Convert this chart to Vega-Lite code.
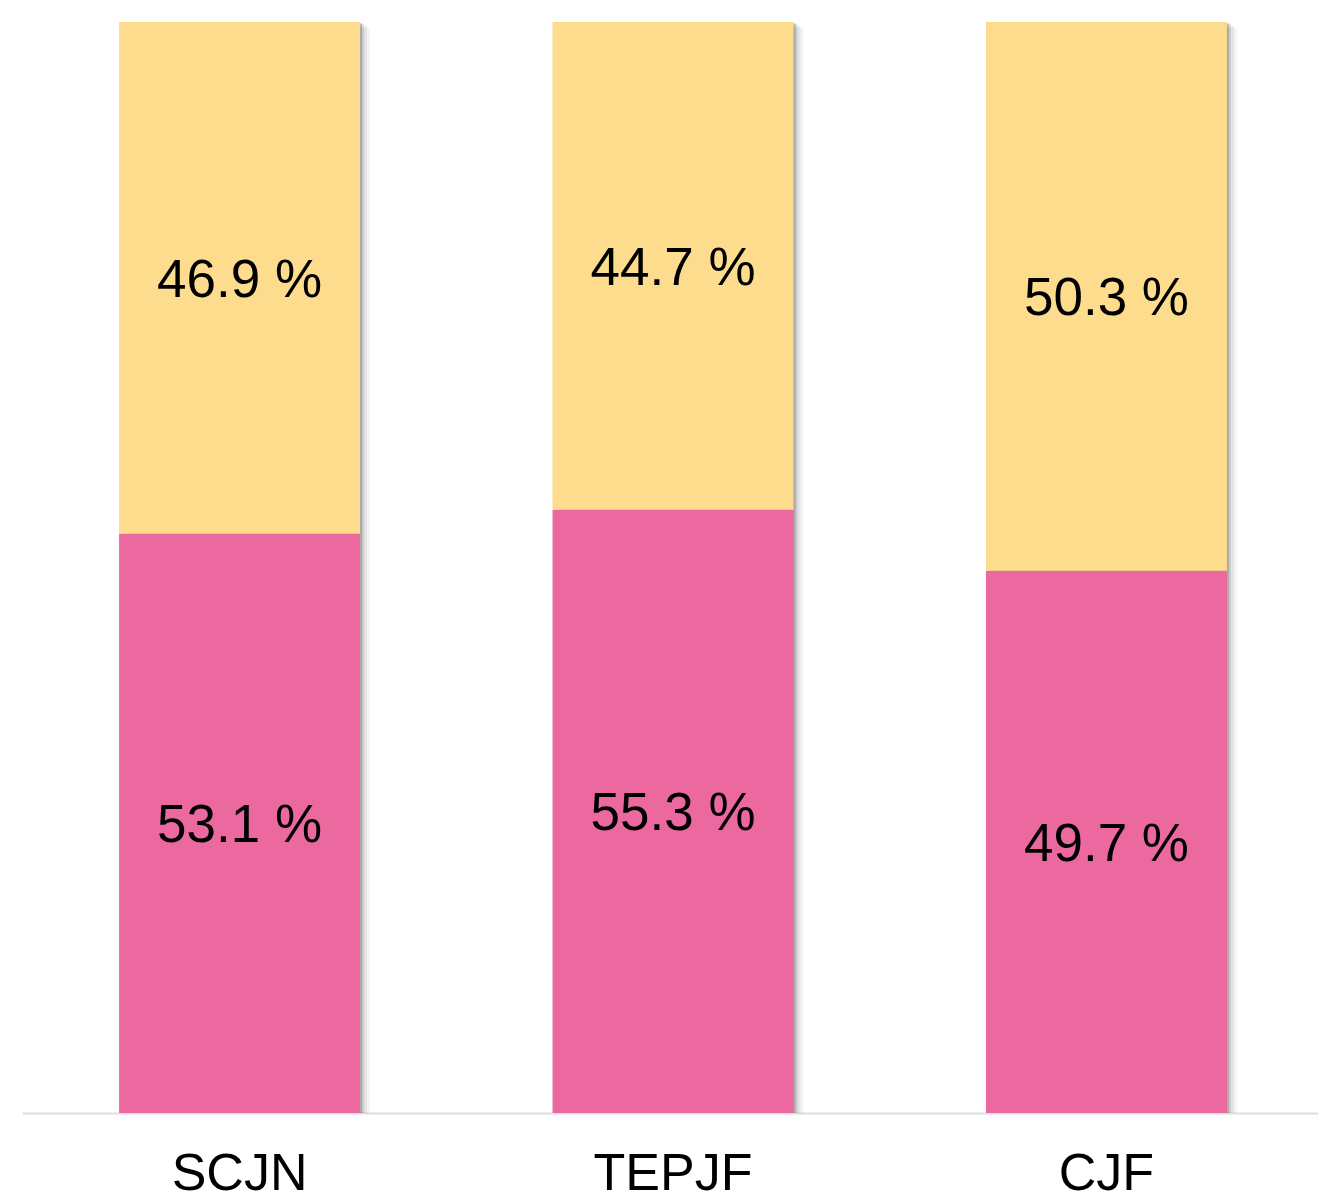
{
  "$schema": "https://vega.github.io/schema/vega-lite/v6.json",
  "width": 1296,
  "height": 1091,
  "autosize": "none",
  "padding": {"left": 22, "top": 22, "right": 0, "bottom": 87},
  "background": "white",
  "config": {"view": {"stroke": null}, "font": "Liberation Sans"},
  "data": {
    "values": [
      {"institucion": "SCJN", "grupo": "Hombres", "orden": 1, "valor": 53.1},
      {"institucion": "SCJN", "grupo": "Mujeres", "orden": 2, "valor": 46.9},
      {"institucion": "TEPJF", "grupo": "Hombres", "orden": 1, "valor": 55.3},
      {"institucion": "TEPJF", "grupo": "Mujeres", "orden": 2, "valor": 44.7},
      {"institucion": "CJF", "grupo": "Hombres", "orden": 1, "valor": 49.7},
      {"institucion": "CJF", "grupo": "Mujeres", "orden": 2, "valor": 50.3}
    ]
  },
  "transform": [
    {"stack": "valor", "groupby": ["institucion"], "sort": [{"field": "orden", "order": "ascending"}], "as": ["v0", "v1"]},
    {"calculate": "(datum.v0 + datum.v1) / 2", "as": "mid"},
    {"calculate": "format(datum.valor, '.1f') + ' %'", "as": "etiqueta"}
  ],
  "encoding": {
    "x": {
      "field": "institucion",
      "type": "nominal",
      "sort": ["SCJN", "TEPJF", "CJF"],
      "scale": {"paddingInner": 0.444, "paddingOuter": 0.217, "align": 0.516},
      "axis": {
        "title": null,
        "domainColor": "#dddddd",
        "domainWidth": 2,
        "ticks": false,
        "labelAngle": 0,
        "labelFontSize": 52,
        "labelColor": "#000000",
        "labelPadding": 35,
        "labelFont": "Liberation Sans"
      }
    }
  },
  "layer": [
    {
      "mark": {"type": "bar", "color": "#000000", "opacity": 0.16, "xOffset": 2, "yOffset": 1},
      "encoding": {
        "y": {"aggregate": "sum", "field": "valor", "type": "quantitative", "stack": null, "scale": {"domain": [0, 100]}, "axis": null}
      }
    },
    {
      "mark": {"type": "bar", "color": "#000000", "opacity": 0.11, "xOffset": 4, "yOffset": 2},
      "encoding": {
        "y": {"aggregate": "sum", "field": "valor", "type": "quantitative", "stack": null}
      }
    },
    {
      "mark": {"type": "bar", "color": "#000000", "opacity": 0.07, "xOffset": 7, "yOffset": 4},
      "encoding": {
        "y": {"aggregate": "sum", "field": "valor", "type": "quantitative", "stack": null}
      }
    },
    {
      "mark": {"type": "bar", "color": "#000000", "opacity": 0.04, "xOffset": 10, "yOffset": 6},
      "encoding": {
        "y": {"aggregate": "sum", "field": "valor", "type": "quantitative", "stack": null}
      }
    },
    {
      "mark": {"type": "bar"},
      "encoding": {
        "y": {"field": "v1", "type": "quantitative"},
        "y2": {"field": "v0"},
        "color": {
          "field": "grupo",
          "type": "nominal",
          "scale": {"domain": ["Hombres", "Mujeres"], "range": ["#EC699F", "#FDDC8D"]},
          "legend": null
        }
      }
    },
    {
      "mark": {"type": "text", "fontSize": 53, "color": "#000000", "baseline": "middle", "align": "center", "dy": 3, "font": "Liberation Sans"},
      "encoding": {
        "y": {"field": "mid", "type": "quantitative"},
        "text": {"field": "etiqueta"}
      }
    }
  ]
}
